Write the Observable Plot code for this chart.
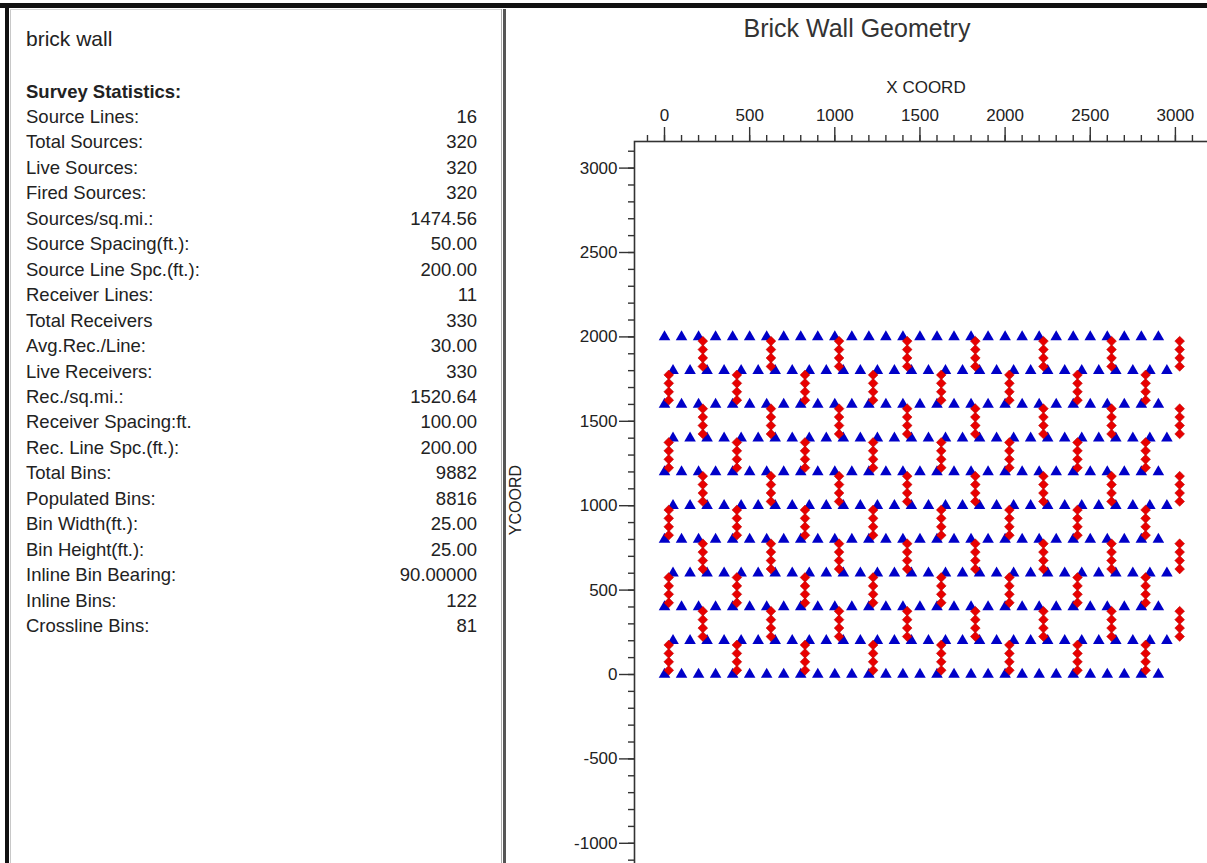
<!DOCTYPE html>
<html>
<head>
<meta charset="utf-8">
<script src="https://cdn.jsdelivr.net/npm/d3@7"></script>
<script src="https://cdn.jsdelivr.net/npm/@observablehq/plot@0.6"></script>
<style>
  html, body { margin: 0; padding: 0; width: 1207px; height: 863px; overflow: hidden; background: #fff; }
  body { position: relative; font-family: "Liberation Sans", Arial, sans-serif; color: #222; }
  .abs { position: absolute; }
  .row { position: absolute; left: 26px; width: 451px; height: 24px; line-height: 24px; font-size: 18.5px; display: flex; justify-content: space-between; white-space: nowrap; }
  #chart svg { max-width: none !important; }
</style>
</head>
<body>
<!-- window frame -->
<div class="abs" style="left:0;top:3px;width:1207px;height:5px;background:#111"></div>
<div class="abs" style="left:5px;top:3px;width:4px;height:860px;background:#111"></div>
<div class="abs" style="left:10px;top:9px;width:1px;height:854px;background:#c8c8c8"></div>
<div class="abs" style="left:10px;top:9px;width:492px;height:1px;background:#d8d8d8"></div>
<div class="abs" style="left:501px;top:9px;width:1px;height:854px;background:#aaa"></div>
<div class="abs" style="left:503px;top:9px;width:3px;height:854px;background:#555"></div>

<div class="abs" style="left:26px;top:26px;font-size:21px;line-height:26px;">brick wall</div>
<div class="abs" style="left:26px;top:80px;font-size:18.5px;line-height:24px;font-weight:bold;">Survey Statistics:</div>
<div id="stats"></div>

<div class="abs" style="left:657px;top:13px;width:400px;text-align:center;font-size:25px;line-height:30px;color:#333;">Brick Wall Geometry</div>
<div class="abs" style="left:826px;top:77px;width:200px;text-align:center;font-size:17px;line-height:22px;color:#222;">X COORD</div>
<div class="abs" style="left:466px;top:489px;width:100px;height:22px;text-align:center;font-size:16px;line-height:22px;color:#222;transform:rotate(-90deg);">YCOORD</div>

<div id="chart" class="abs" style="left:540px;top:60px;width:690px;height:840px;"></div>

<script>
// ---- Survey statistics (left panel) ----
const statLabels = [
  "Source Lines:", "Total Sources:", "Live Sources:", "Fired Sources:", "Sources/sq.mi.:",
  "Source Spacing(ft.):", "Source Line Spc.(ft.):", "Receiver Lines:", "Total Receivers",
  "Avg.Rec./Line:", "Live Receivers:", "Rec./sq.mi.:", "Receiver Spacing:ft.",
  "Rec. Line Spc.(ft.):", "Total Bins:", "Populated Bins:", "Bin Width(ft.):",
  "Bin Height(ft.):", "Inline Bin Bearing:", "Inline Bins:", "Crossline Bins:"
];
const statValues = [
  "16", "320", "320", "320", "1474.56",
  "50.00", "200.00", "11", "330",
  "30.00", "330", "1520.64", "100.00",
  "200.00", "9882", "8816", "25.00",
  "25.00", "90.00000", "122", "81"
];

// ---- Receivers (blue triangles) ----
const receiverXA = [0, 100, 200, 300, 400, 500, 600, 700, 800, 900, 1000, 1100, 1200, 1300, 1400,
  1500, 1600, 1700, 1800, 1900, 2000, 2100, 2200, 2300, 2400, 2500, 2600, 2700, 2800, 2900];
const receiverXB = [50, 150, 250, 350, 450, 550, 650, 750, 850, 950, 1050, 1150, 1250, 1350, 1450,
  1550, 1650, 1750, 1850, 1950, 2050, 2150, 2250, 2350, 2450, 2550, 2650, 2750, 2850, 2950];
const receiverLineY = [0, 200, 400, 600, 800, 1000, 1200, 1400, 1600, 1800, 2000];
const receiverLineSet = ["A", "B", "A", "B", "A", "B", "A", "B", "A", "B", "A"];

// ---- Sources (red diamonds) ----
const sourceLineXA = [25, 425, 825, 1225, 1625, 2025, 2425, 2825];
const sourceYA = [25, 75, 125, 175, 425, 475, 525, 575, 825, 875, 925, 975,
  1225, 1275, 1325, 1375, 1625, 1675, 1725, 1775];
const sourceLineXB = [225, 625, 1025, 1425, 1825, 2225, 2625, 3025];
const sourceYB = [225, 275, 325, 375, 625, 675, 725, 775, 1025, 1075, 1125, 1175,
  1425, 1475, 1525, 1575, 1825, 1875, 1925, 1975];

// ---- Axis ticks ----
const xMajorTicks = [0, 500, 1000, 1500, 2000, 2500, 3000];
const xMinorTicks = [-100, 0, 100, 200, 300, 400, 500, 600, 700, 800, 900, 1000, 1100, 1200, 1300, 1400,
  1500, 1600, 1700, 1800, 1900, 2000, 2100, 2200, 2300, 2400, 2500, 2600, 2700, 2800, 2900, 3000, 3100, 3200, 3300];
const yMajorTicks = [-1000, -500, 0, 500, 1000, 1500, 2000, 2500, 3000];
const yMinorTicks = [-1300, -1200, -1100, -1000, -900, -800, -700, -600, -500, -400, -300, -200, -100, 0,
  100, 200, 300, 400, 500, 600, 700, 800, 900, 1000, 1100, 1200, 1300, 1400, 1500, 1600, 1700, 1800,
  1900, 2000, 2100, 2200, 2300, 2400, 2500, 2600, 2700, 2800, 2900, 3000, 3100];

// stats rows
const statsEl = document.getElementById("stats");
statLabels.forEach((lab, i) => {
  const row = document.createElement("div");
  row.className = "row";
  row.style.top = (105 + i * 25.45) + "px";
  const a = document.createElement("span"); a.textContent = lab;
  const b = document.createElement("span"); b.textContent = statValues[i];
  row.appendChild(a); row.appendChild(b);
  statsEl.appendChild(row);
});

// build point tables
const receivers = [];
receiverLineY.forEach((y, i) => {
  const xs = receiverLineSet[i] === "A" ? receiverXA : receiverXB;
  xs.forEach(x => receivers.push({x, y}));
});
const sources = [];
sourceLineXA.forEach(x => sourceYA.forEach(y => sources.push({x, y})));
sourceLineXB.forEach(x => sourceYB.forEach(y => sources.push({x, y})));

const diamond = {
  draw(ctx, size) {
    const r = Math.sqrt(size) * 0.62625;
    ctx.moveTo(0, -r); ctx.lineTo(r, 0); ctx.lineTo(0, r); ctx.lineTo(-r, 0); ctx.closePath();
  }
};

const fmt = d => String(d);

const chart = Plot.plot({
  width: 690,
  height: 840,
  marginLeft: 94,
  marginTop: 81,
  marginRight: 0,
  marginBottom: 0,
  style: {fontFamily: "Liberation Sans, Arial, sans-serif", fontSize: "17px", color: "#222", background: "transparent", overflow: "visible", maxWidth: "none"},
  x: {domain: [-176.2, 3323.5]},
  y: {domain: [-1338.9, 3157.6]},
  marks: [
    Plot.axisX(xMinorTicks, {anchor: "top", tickSize: 7, strokeWidth: 1.4, stroke: "#333", fill: "none", label: null}),
    Plot.axisX(xMajorTicks, {anchor: "top", tickSize: 15, tickPadding: 6, strokeWidth: 1.4, stroke: "#333", tickFormat: fmt, label: null}),
    Plot.axisY(yMinorTicks, {anchor: "left", tickSize: 6, strokeWidth: 1.4, stroke: "#333", fill: "none", label: null}),
    Plot.axisY(yMajorTicks, {anchor: "left", tickSize: 15, tickPadding: 2, strokeWidth: 1.4, stroke: "#333", tickFormat: fmt, label: null}),
    Plot.frame({stroke: "#333", strokeWidth: 1.6}),
    Plot.dot(receivers, {x: "x", y: "y", symbol: "triangle", r: 4.3, fill: "#0000c8", stroke: "none"}),
    Plot.dot(sources, {x: "x", y: "y", symbol: diamond, r: 4.4, fill: "#e80000", stroke: "#b00000", strokeWidth: 0.5})
  ]
});
document.getElementById("chart").appendChild(chart);
</script>
</body>
</html>
